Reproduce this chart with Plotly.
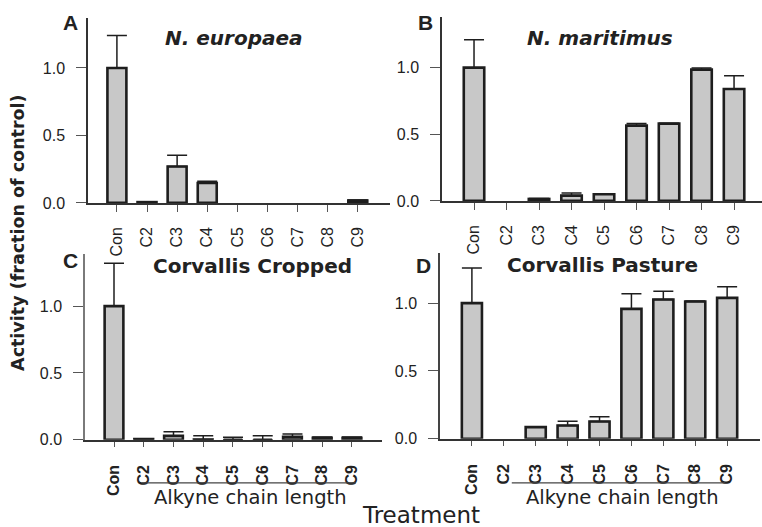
import plotly.graph_objects as go

W, H = 762, 527
K = 1.017  # vertical compensation

categories = ["Con", "C2", "C3", "C4", "C5", "C6", "C7", "C8", "C9"]

# None = no visible bar / no error bar
europaea = [1.0, 0.006, 0.27, 0.148, None, None, None, None, 0.018]
europaea_err = [0.24, None, 0.083, 0.012, None, None, None, None, 0.004]

maritimus = [1.0, None, 0.015, 0.04, 0.05, 0.565, 0.58, 0.985, 0.84]
maritimus_err = [0.21, None, 0.004, 0.02, 0.003, 0.015, 0.002, 0.012, 0.10]

cropped = [1.0, 0.006, 0.03, 0.003, 0.0, 0.0, 0.022, 0.015, 0.015]
cropped_err = [0.32, 0.002, 0.03, 0.027, 0.02, 0.03, 0.022, 0.006, 0.006]

pasture = [1.0, None, 0.086, 0.098, 0.128, 0.958, 1.027, 1.012, 1.039]
pasture_err = [0.258, None, 0.004, 0.032, 0.034, 0.111, 0.061, 0.004, 0.081]

panel_titles = ["<i>N. europaea</i>", "<i>N. maritimus</i>", "Corvallis Cropped", "Corvallis Pasture"]
panel_letters = ["A", "B", "C", "D"]

BAR_FILL = "#c8c8c8"
BAR_LINE = "#1e1e1e"
TXT = "#222222"
TICKFONT = "Liberation Sans, Arial, sans-serif"
TITLEFONT = "DejaVu Sans, sans-serif"


def px(x):
    return x / W


def py(y):
    return 1 - min(y * K, H) / H


# pixel boxes: (left, right, top, bottom(y=0)) and x ranges
panels = [
    dict(data=europaea, err=europaea_err, box=(88, 390, 18, 203), xr=[-0.96, 9.07], ytop=1.37, bold=False,
         ycol="#333333", tlen=7, stand=9),
    dict(data=maritimus, err=maritimus_err, box=(442, 762, 17, 201), xr=[-0.985, 8.86], ytop=1.38, bold=False,
         ycol="#333333", tlen=7, stand=9),
    dict(data=cropped, err=cropped_err, box=(85, 382, 254, 440), xr=[-0.975, 9.01], ytop=1.39, bold=True,
         ycol="#7a7a7a", tlen=5, stand=12),
    dict(data=pasture, err=pasture_err, box=(440, 760, 253, 439), xr=[-1.0, 9.03], ytop=1.37, bold=True,
         ycol="#444444", tlen=5, stand=12),
]

fig = go.Figure()
layout = {}
for i, p in enumerate(panels):
    n = "" if i == 0 else str(i + 1)
    fig.add_trace(go.Bar(
        x=categories, y=p["data"], width=0.63,
        marker=dict(color=BAR_FILL, line=dict(color=BAR_LINE, width=2.6)),
        error_y=dict(type="data", symmetric=False, array=p["err"], arrayminus=[0] * len(p["err"]),
                     color=BAR_LINE, thickness=1.5, width=10),
        xaxis="x" + n, yaxis="y" + n, showlegend=False,
    ))
    l, r, t, b = p["box"]
    layout["xaxis" + n] = dict(
        domain=[px(l), px(r)], anchor="y" + n, type="category",
        range=p["xr"], showline=True, linecolor="#333333", linewidth=1.5,
        ticks="outside", ticklen=p["tlen"], tickwidth=1.2, tickcolor="#555555",
        tickangle=-90, ticklabelstandoff=p["stand"],
        tickfont=dict(family=TICKFONT, size=16, color=TXT, weight="bold" if p["bold"] else "normal"),
        showgrid=False, zeroline=False, fixedrange=True,
    )
    layout["yaxis" + n] = dict(
        domain=[py(b), py(t)], anchor="x" + n, range=[0, p["ytop"]],
        tickvals=[0, 0.5, 1.0], tickformat=".1f",
        showline=True, linecolor=p["ycol"], linewidth=1.5,
        ticks="outside", ticklen=10, tickwidth=1.2, tickcolor="#555555",
        ticklabelstandoff=8,
        tickfont=dict(family=TICKFONT, size=16, color=TXT),
        showgrid=False, zeroline=False, fixedrange=True,
    )

annotations = []
title_pos = [(234, 38), (600, 38), (252, 266), (602, 265)]
for txt, (x, y) in zip(panel_titles, title_pos):
    annotations.append(dict(text="<b>" + txt + "</b>", x=px(x), y=py(y), xref="paper", yref="paper",
                            showarrow=False, xanchor="center", yanchor="middle",
                            font=dict(family=TITLEFONT, size=20, color=TXT)))
letter_pos = [(70, 23), (425, 23), (70, 261), (423, 266)]
for txt, (x, y) in zip(panel_letters, letter_pos):
    annotations.append(dict(text="<b>" + txt + "</b>", x=px(x), y=py(y), xref="paper", yref="paper",
                            showarrow=False, xanchor="center", yanchor="middle",
                            font=dict(family=TICKFONT, size=21, color=TXT)))

annotations.append(dict(text="<b>Activity (fraction of control)</b>", x=px(18), y=py(233), xref="paper", yref="paper",
                        showarrow=False, textangle=-90, xanchor="center", yanchor="middle",
                        font=dict(family=TITLEFONT, size=17.5, color=TXT)))
annotations.append(dict(text="Treatment", x=px(421), y=0, xref="paper", yref="paper",
                        showarrow=False, xanchor="center", yanchor="bottom", yshift=-12,
                        font=dict(family=TITLEFONT, size=23, color=TXT)))
for x in (250, 622):
    annotations.append(dict(text="Alkyne chain length", x=px(x), y=py(498), xref="paper", yref="paper",
                            showarrow=False, xanchor="center", yanchor="middle",
                            font=dict(family=TITLEFONT, size=19.5, color=TXT)))

shapes = [
    dict(type="line", xref="x3", yref="paper", x0=0.93, x1=8.13, y0=py(483), y1=py(483),
         line=dict(color="#444444", width=1.2)),
    dict(type="line", xref="x4", yref="paper", x0=1.25, x1=7.94, y0=py(483), y1=py(483),
         line=dict(color="#444444", width=1.2)),
]

fig.update_layout(
    width=W, height=H, margin=dict(l=0, r=0, t=0, b=0),
    paper_bgcolor="white", plot_bgcolor="white",
    annotations=annotations, shapes=shapes, bargap=0.37,
    **layout,
)

fig.write_html("out.html")
